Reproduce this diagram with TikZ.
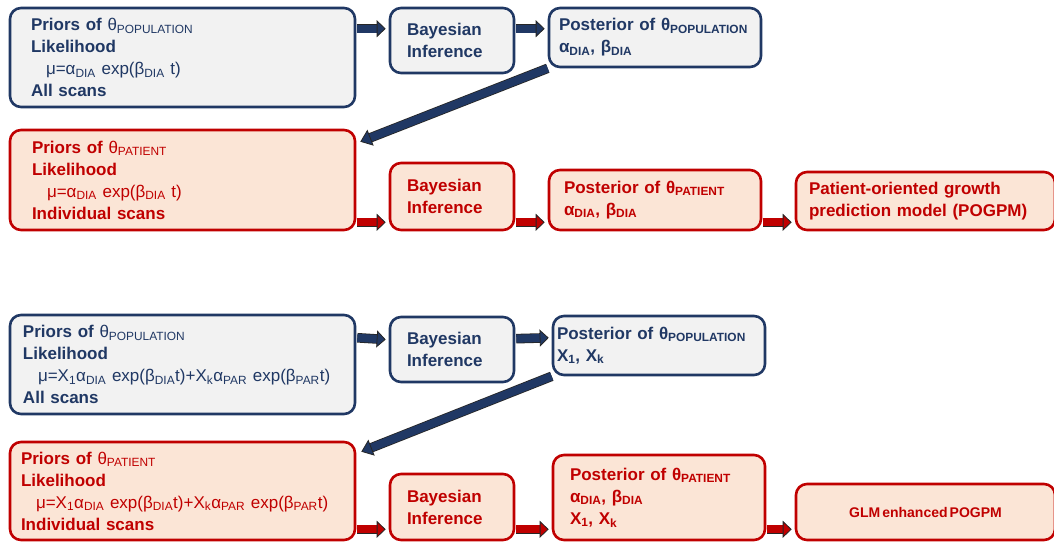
\documentclass[tikz,border=0pt]{standalone}
\usepackage{fontspec}
\setmainfont{Liberation Sans}
\usetikzlibrary{arrows.meta}
\definecolor{popblue}{HTML}{203864}
\definecolor{popfill}{HTML}{F2F2F2}
\definecolor{patred}{HTML}{C00000}
\definecolor{patfill}{HTML}{FBE5D6}
\definecolor{arrowedge}{HTML}{262626}

\begin{document}
\begin{tikzpicture}[x=1pt, y=-1pt,
    box/.style={rounded corners=11pt, line width=2.6pt, inner sep=0pt, align=left,
      font=\bfseries\fontsize{17}{22}\selectfont},
    popbox/.style={box, draw=popblue, fill=popfill, text=popblue},
    patbox/.style={box, draw=patred, fill=patfill, text=patred},
    stepto/.style={line width=8pt, draw=#1, shorten <=1pt, shorten >=3pt,
      -{Triangle[length=9pt, width=17pt, line width=0.8pt, color=arrowedge, fill=#1]},
      preaction={draw=arrowedge, line width=9.6pt, -, shorten >=9pt}},
    feedback/.style={line width=8pt, draw=popblue,
      -{Triangle[length=11pt, width=17pt, line width=0.8pt, color=arrowedge, fill=popblue]},
      preaction={draw=arrowedge, line width=9.6pt, -, shorten >=9pt}}
  ]
  \useasboundingbox (0,0) rectangle (1054,543);

  \node[popbox, minimum width=345pt, minimum height=99pt, text width=303pt] (priorpop) at (182.5,57.5)
    {Priors~of~{\mdseries θ\textsubscript{POPULATION}}\\
     Likelihood\\
     \hspace*{15pt}{\mdseries μ=α\textsubscript{DIA}~exp(β\textsubscript{DIA}~t)}\\
     All~scans};
  \node[popbox, minimum width=124pt, minimum height=65pt, text width=90pt] (bayespop) at (452,40.5)
    {Bayesian\\Inference};
  \node[popbox, minimum width=212pt, minimum height=59pt, text width=192pt] (postpop) at (655,37.5)
    {Posterior~of~θ\textsubscript{POPULATION}\\
     α\textsubscript{DIA},~β\textsubscript{DIA}};

  \node[patbox, minimum width=345pt, minimum height=100pt, text width=301pt] (priorpat) at (182.5,180)
    {Priors~of~{\mdseries θ\textsubscript{PATIENT}}\\
     Likelihood\\
     \hspace*{15pt}{\mdseries μ=α\textsubscript{DIA}~exp(β\textsubscript{DIA}~t)}\\
     Individual~scans};
  \node[patbox, minimum width=124pt, minimum height=67pt, text width=90pt] (bayespat) at (452,196.5)
    {Bayesian\\Inference};
  \node[patbox, minimum width=212pt, minimum height=60pt, text width=182pt] (postpat) at (655,200)
    {Posterior~of~θ\textsubscript{PATIENT}\\
     α\textsubscript{DIA},~β\textsubscript{DIA}};
  \node[patbox, minimum width=259pt, minimum height=58pt, text width=233pt] (pogpm) at (925.5,201)
    {Patient-oriented~growth\\
     prediction~model~(POGPM)};

  \draw[stepto=popblue] ([yshift=-22pt]priorpop.north east) -- ([yshift=-22pt]bayespop.north west);
  \draw[stepto=popblue] ([yshift=-22pt]bayespop.north east) -- ([yshift=-22pt]postpop.north west);
  \draw[feedback] (postpop.south west) -- ([xshift=4pt, yshift=-13pt]priorpat.north east);
  \draw[stepto=patred] ([yshift=9pt]priorpat.south east) -- ([yshift=9pt]bayespat.south west);
  \draw[stepto=patred] ([yshift=9pt]bayespat.south east) -- ([yshift=9pt]postpat.south west);
  \draw[stepto=patred] ([yshift=9pt]postpat.south east) -- ([yshift=9pt]pogpm.south west);

  \node[popbox, minimum width=345pt, minimum height=99pt, text width=319pt] (glmpriorpop) at (182.5,364.5)
    {Priors~of~{\mdseries θ\textsubscript{POPULATION}}\\
     Likelihood\\
     \hspace*{15pt}{\mdseries μ=X\textsubscript{1}α\textsubscript{DIA}~exp(β\textsubscript{DIA}t)+X\textsubscript{k}α\textsubscript{PAR}~exp(β\textsubscript{PAR}t)}\\
     All~scans};
  \node[popbox, minimum width=124pt, minimum height=65pt, text width=90pt] (glmbayespop) at (452,349.5)
    {Bayesian\\Inference};
  \node[popbox, minimum width=212pt, minimum height=59pt, text width=204pt] (glmpostpop) at (659,345.5)
    {Posterior~of~θ\textsubscript{POPULATION}\\
     X\textsubscript{1},~X\textsubscript{k}};

  \node[patbox, minimum width=345pt, minimum height=98pt, text width=323pt] (glmpriorpat) at (182.5,491)
    {Priors~of~{\mdseries θ\textsubscript{PATIENT}}\\
     Likelihood\\
     \hspace*{15pt}{\mdseries μ=X\textsubscript{1}α\textsubscript{DIA}~exp(β\textsubscript{DIA}t)+X\textsubscript{k}α\textsubscript{PAR}~exp(β\textsubscript{PAR}t)}\\
     Individual~scans};
  \node[patbox, minimum width=124pt, minimum height=66pt, text width=90pt] (glmbayespat) at (452,507)
    {Bayesian\\Inference};
  \node[patbox, minimum width=212pt, minimum height=85pt, text width=178pt] (glmpostpat) at (659,497.5)
    {Posterior~of~θ\textsubscript{PATIENT}\\
     α\textsubscript{DIA},~β\textsubscript{DIA}\\
     X\textsubscript{1},~X\textsubscript{k}};
  \node[patbox, minimum width=259pt, minimum height=56pt, font=\bfseries\fontsize{14}{17}\selectfont] (glmpogpm) at (925.5,512)
    {GLM\hspace{2pt}enhanced\hspace{2pt}POGPM};

  \draw[stepto=popblue] ([yshift=-24pt]glmpriorpop.north east) -- ([yshift=-24pt]glmbayespop.north west);
  \draw[stepto=popblue] ([yshift=-23pt]glmbayespop.north east) -- ([yshift=-23pt]glmpostpop.north west);
  \draw[feedback] (glmpostpop.south west) -- ([xshift=5pt, yshift=-11pt]glmpriorpat.north east);
  \draw[stepto=patred] ([yshift=12pt]glmpriorpat.south east) -- ([yshift=12pt]glmbayespat.south west);
  \draw[stepto=patred] ([yshift=12pt]glmbayespat.south east) -- ([yshift=12pt]glmpostpat.south west);
  \draw[stepto=patred] ([yshift=12pt]glmpostpat.south east) -- ([yshift=12pt]glmpogpm.south west);
\end{tikzpicture}
\end{document}
